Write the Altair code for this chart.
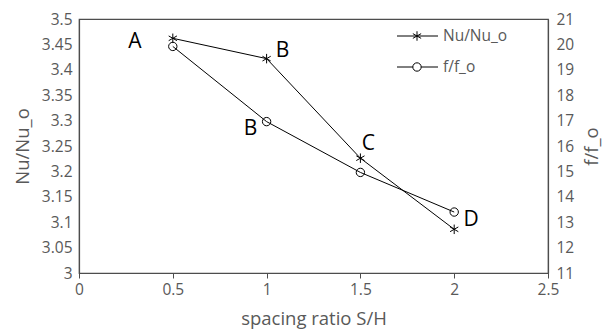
import altair as alt
import pandas as pd

# ---------------- data ----------------
spacing = [0.5, 1.0, 1.5, 2.0]
nu_ratio = [3.462, 3.422, 3.226, 3.086]
f_ratio = [19.92, 16.96, 14.96, 13.40]
point_names = ["A", "B", "C", "D"]
x_ticks = [0, 0.5, 1, 1.5, 2, 2.5]
nu_ticks = [3, 3.05, 3.1, 3.15, 3.2, 3.25, 3.3, 3.35, 3.4, 3.45, 3.5]
f_ticks = [11, 12, 13, 14, 15, 16, 17, 18, 19, 20, 21]
series_names = ["Nu/Nu_o", "f/f_o"]

df = pd.DataFrame({"x": spacing, "nu": nu_ratio, "f": f_ratio, "name": point_names})

FONT = "Open Sans"
GREY = "#595959"
AX = "#4d4d4d"
TICK_FS = 15.5
TITLE_FS = 18.5

ASTERISK = "M0,-1L0,1M-0.87,-0.5L0.87,0.5M-0.87,0.5L0.87,-0.5"

common_axis = dict(
    grid=False, domainColor=AX, domainWidth=1.2, labelColor=GREY, titleColor=GREY,
    labelFont=FONT, titleFont=FONT, labelFontSize=TICK_FS, titleFontSize=TITLE_FS,
    titleFontWeight="normal", labelFlush=False, labelOverlap=False, format="~g",
)

x_enc = alt.X(
    "x:Q",
    scale=alt.Scale(domain=[0, 2.5], nice=False, zero=False),
    axis=alt.Axis(
        values=x_ticks, title="spacing ratio S/H", ticks=True, tickSize=5,
        tickColor=AX, labelPadding=4, titlePadding=12, **common_axis,
    ),
)

y_nu = alt.Y(
    "nu:Q",
    scale=alt.Scale(domain=[3, 3.5], nice=False, zero=False),
    axis=alt.Axis(
        orient="left", values=nu_ticks, title="Nu/Nu_o", ticks=False,
        labelPadding=7, titlePadding=9, **common_axis,
    ),
)

y_f = alt.Y(
    "f:Q",
    scale=alt.Scale(domain=[11, 21], nice=False, zero=False),
    axis=alt.Axis(
        orient="right", values=f_ticks, title="f/f_o", ticks=False,
        labelPadding=8, titlePadding=9, titleAngle=-90, titleBaseline="top",
        **common_axis,
    ),
)

base = alt.Chart(df)

nu_line = base.mark_line(color="black", strokeWidth=1).encode(x=x_enc, y=y_nu)
nu_pts = base.mark_point(shape=ASTERISK, size=90, filled=False, color="black",
                         strokeWidth=1, opacity=1).encode(x=x_enc, y=y_nu)
f_line = base.mark_line(color="black", strokeWidth=1).encode(x=x_enc, y=y_f)
f_pts = base.mark_point(shape="circle", size=70, filled=False, color="black",
                        strokeWidth=1, opacity=1).encode(x=x_enc, y=y_f)

# point annotations: (index of point, dx, dy)
nu_annot = [(0, -38, 4), (1, 16, -8), (2, 8, -14)]
f_annot = [(1, -16, 7), (3, 17, 8)]


def annot_layers(items, y_enc):
    out = []
    for idx, dx, dy in items:
        out.append(
            alt.Chart(df.iloc[[idx]]).mark_text(
                font=FONT, fontSize=21, color="black", dx=dx, dy=dy,
                align="center", baseline="middle",
            ).encode(x=x_enc, y=y_enc, text="name:N")
        )
    return out


nu_text = annot_layers(nu_annot, y_nu)
f_text = annot_layers(f_annot, y_f)


# manual legend (top right, inside plot)
def legend_row(name, shape, size, ypos):
    d = pd.DataFrame({"series": [name]})
    c = alt.Chart(d)
    rule = c.mark_rule(color="black", strokeWidth=1).encode(
        x=alt.value(318), x2=alt.value(359), y=alt.value(ypos))
    pt = c.mark_point(shape=shape, size=size, filled=False, color="black",
                      strokeWidth=1, opacity=1, fill="white").encode(
        x=alt.value(338), y=alt.value(ypos))
    tx = c.mark_text(font=FONT, fontSize=15.5, color=GREY, align="left",
                     baseline="middle").encode(
        x=alt.value(364), y=alt.value(ypos), text="series:N")
    return [rule, pt, tx]


leg_nu = legend_row(series_names[0], ASTERISK, 90, 17)
leg_f = legend_row(series_names[1], "circle", 70, 48)

nu_layer = alt.layer(nu_line, nu_pts, *nu_text, *leg_nu)
f_layer = alt.layer(f_line, f_pts, *f_text, *leg_f)

chart = (
    alt.layer(nu_layer, f_layer)
    .resolve_scale(y="independent")
    .properties(
        width=469, height=254,
        autosize=alt.AutoSizeParams(type="none"),
        padding={"left": 71, "top": 11, "right": 56, "bottom": 62},
        background="white",
    )
    .configure_view(stroke=AX, strokeWidth=1.2)
)

chart.save("out.html", embed_options={"renderer": "svg", "actions": False})
